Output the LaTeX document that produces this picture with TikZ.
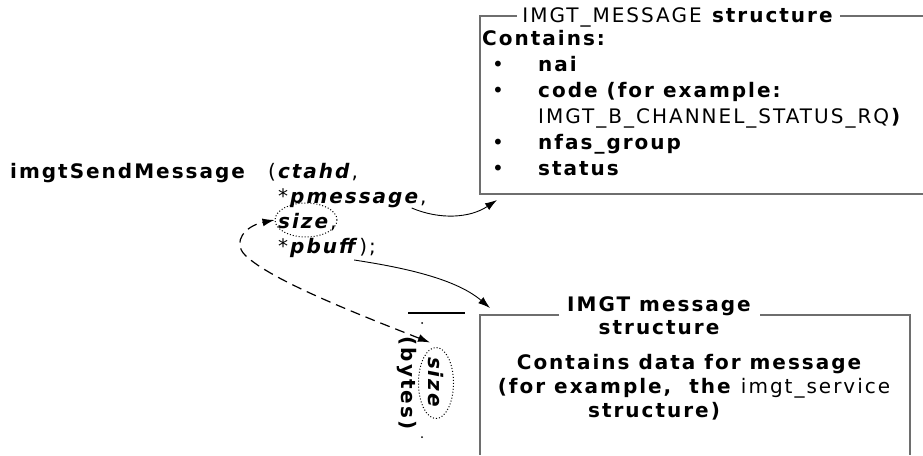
\documentclass[tikz,border=0pt]{standalone}
\usepackage{fontspec}
\setmainfont{DejaVu Sans}[LetterSpace=10]
\usetikzlibrary{arrows.meta,shapes.geometric}
\newcommand{\fsz}{\fontsize{20}{25}\selectfont}
\newcommand{\bi}[1]{\textbf{\textit{#1}}}
\definecolor{boxgray}{RGB}{110,110,110}
\begin{document}
\begin{tikzpicture}[x=1pt,y=-1pt,
  every node/.style={inner sep=0pt, font=\fsz},
  lbl/.style={anchor=base west},
  ctr/.style={anchor=base},
  boxline/.style={draw=boxgray, line width=1.3pt},
  arr/.style={-{Latex[length=12pt,width=8pt]}, line width=0.9pt},
  darr/.style={{Latex[length=12pt,width=8pt]}-{Latex[length=12pt,width=8pt]}, line width=1.2pt, dash pattern=on 10pt off 6pt},
  dotring/.style={ellipse, draw, dotted, line width=1pt, inner sep=0pt},
  dotline/.style={line width=2pt, line cap=round, dash pattern=on 0pt off 10pt}
]
\useasboundingbox (0,0) rectangle (923,455);

% ---- function call ----
\node[lbl] (fn) at (10,178) {\textbf{imgtSendMessage}};
\node[lbl] (ct) at (268,178) {(\bi{ctahd},};
\node[lbl] (pm) at (278,203) {*\bi{pmessage},};
\node[lbl] (sz) at (278,228) {\bi{size},};
\node[lbl] (pb) at (278,253) {*\bi{pbuff});};
\node[dotring, minimum width=62pt, minimum height=34pt] (szE) at (306,220) {};

% ---- IMGT_MESSAGE structure box ----
\coordinate (b1nw) at (480,16);
\coordinate (b1sw) at (480,194);
\draw[boxline] (517,16) -- (b1nw) -- (b1sw) -- (924,194);
\draw[boxline] (840,16) -- (924,16);
\node[ctr] (b1t) at (678.5,22) {IMGT\_MESSAGE \textbf{structure}};
\node[lbl] (b1c) at (482,45) {\textbf{Contains:}};
\node[lbl] (u1) at (492,71) {•};
\node[lbl] (u2) at (492,97) {•};
\node[lbl] (u3) at (492,149) {•};
\node[lbl] (u4) at (492,175) {•};
\node[lbl] (i1) at (538,71) {\textbf{nai}};
\node[lbl] (i2) at (538,97) {\textbf{code (for example:}};
\node[lbl] (i2b) at (538,123) {IMGT\_B\_CHANNEL\_STATUS\_RQ\textbf{)}};
\node[lbl] (i3) at (538,149) {\textbf{nfas\_group}};
\node[lbl] (i4) at (538,175) {\textbf{status}};

% ---- IMGT message structure box ----
\coordinate (b2nw) at (480,315);
\coordinate (b2ne) at (910,315);
\draw[boxline] (559,315) -- (b2nw) -- (480,455);
\draw[boxline] (760,315) -- (b2ne) -- (910,455);
\node[ctr] (b2t1) at (660,311) {\textbf{IMGT message}};
\node[ctr] (b2t2) at (660,334) {\textbf{structure}};
\node[ctr] (b2c1) at (690,369) {\textbf{Contains data for message}};
\node[ctr] (b2c2) at (694,393) {\textbf{(for example,~ the} imgt\_service};
\node[ctr] (b2c3) at (655,417) {\textbf{structure)}};

% ---- size (bytes) marker ----
\coordinate (mk1) at (408,313);
\coordinate (mk2) at (465,313);
\draw[line width=1.6pt] (mk1) -- (mk2);
\draw[dotline] (422,313) -- (422,333);
\draw[dotline] (422,437) -- (422,447);
\node[rotate=-90] (byt) at (407,384) {\textbf{(bytes)}};
\node[rotate=-90] (vsz) at (436,383) {\bi{size}};
\node[dotring, rotate=-90, minimum width=71pt, minimum height=35pt] (vszE) at (436,383) {};

% ---- connectors ----
\coordinate (t1) at (497,200);
\coordinate (t2) at (490,308);
\draw[arr] ([shift={(-15,5)}]pm.base east) .. controls (440,220) and (470,218) .. (t1);
\draw[arr] ([shift={(-22,7)}]pb.base east) .. controls (400,267) and (455,278) .. (t2);
\draw[darr] ([shift={(-6,-4.5)}]vszE.west) .. controls (360,315) and (270,280) .. (245,255)
   .. controls (232,242) and (245,226) .. (szE.west);
\end{tikzpicture}
\end{document}
